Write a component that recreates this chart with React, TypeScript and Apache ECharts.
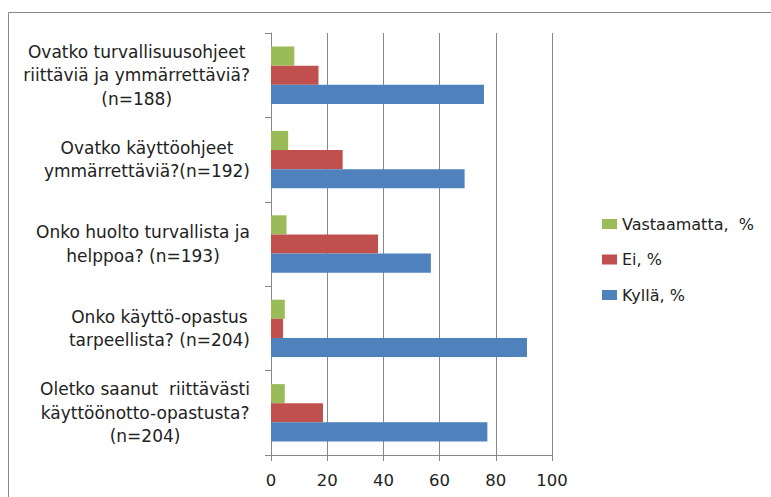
import React, { useEffect, useRef } from "react";
import * as echarts from "echarts";

const categories = [
  "Ovatko turvallisuusohjeet\nriittäviä ja ymmärrettäviä?\n(n=188)",
  "Ovatko käyttöohjeet\nymmärrettäviä?(n=192)",
  "Onko huolto turvallista ja\nhelppoa? (n=193)",
  "Onko käyttö-opastus\ntarpeellista? (n=204)",
  "Oletko saanut  riittävästi\nkäyttöönotto-opastusta?\n(n=204)",
];
const vastaamatta = [8.3, 6.1, 5.5, 4.9, 4.9];
const ei = [16.9, 25.5, 38.1, 4.3, 18.5];
const kylla = [75.8, 68.9, 56.9, 91.1, 77.0];
const seriesNames = ["Vastaamatta,  %", "Ei, %", "Kyllä, %"];
const xTicks = { min: 0, max: 100, interval: 20 };

const FONT = "DejaVu Sans";
const TEXT = "#222222";
const GRAY = "#888888";

export default function App() {
  const ref = useRef<HTMLDivElement>(null);
  useEffect(() => {
    const chart = echarts.init(ref.current!, undefined, { renderer: "svg" });
    chart.setOption({
      animation: false,
      backgroundColor: "#ffffff",
      graphic: [
        {
          type: "rect",
          shape: { x: 8.5, y: 12.5, width: 900, height: 600 },
          style: { fill: "none", stroke: GRAY, lineWidth: 1 },
          silent: true,
        },
      ],
      grid: { left: 271, right: 219, top: 33, bottom: 42 },
      legend: {
        orient: "vertical",
        left: 597,
        top: 209,
        itemWidth: 15,
        itemHeight: 10,
        itemGap: 15.5,
        icon: "rect",
        data: seriesNames,
        textStyle: { fontFamily: FONT, fontSize: 16, color: TEXT, lineHeight: 20 },
      },
      xAxis: {
        type: "value",
        min: xTicks.min,
        max: xTicks.max,
        interval: xTicks.interval,
        axisLine: { show: true, lineStyle: { color: GRAY, width: 1 } },
        axisTick: { show: true, length: 6, lineStyle: { color: GRAY } },
        splitLine: { show: true, lineStyle: { color: GRAY, width: 1 } },
        axisLabel: { fontFamily: FONT, fontSize: 16.5, color: TEXT, margin: 17 },
      },
      yAxis: {
        type: "category",
        inverse: true,
        data: categories,
        axisLine: { show: true, lineStyle: { color: GRAY, width: 1 } },
        axisTick: { show: true, length: 6, lineStyle: { color: GRAY } },
        axisLabel: {
          align: "right",
          margin: 21,
          formatter: (v: string) =>
            v
              .split("\n")
              .map((l) => `{c|${l}}`)
              .join("\n"),
          rich: {
            c: {
              align: "center",
              fontFamily: FONT,
              fontSize: 17,
              lineHeight: 23.6,
              color: TEXT,
            },
          },
        },
      },
      series: [
        {
          name: seriesNames[0],
          type: "bar",
          data: vastaamatta,
          itemStyle: { color: "#9BBB59" },
          barGap: "0%",
          barCategoryGap: "32%",
        },
        {
          name: seriesNames[1],
          type: "bar",
          data: ei,
          itemStyle: { color: "#C0504D" },
          barGap: "0%",
          barCategoryGap: "32%",
        },
        {
          name: seriesNames[2],
          type: "bar",
          data: kylla,
          itemStyle: { color: "#4F81BD" },
          barGap: "0%",
          barCategoryGap: "32%",
        },
      ],
    });
    return () => chart.dispose();
  }, []);
  return (
    <div
      ref={ref}
      style={{ position: "fixed", left: 0, top: 0, width: 771, height: 497 }}
    />
  );
}
